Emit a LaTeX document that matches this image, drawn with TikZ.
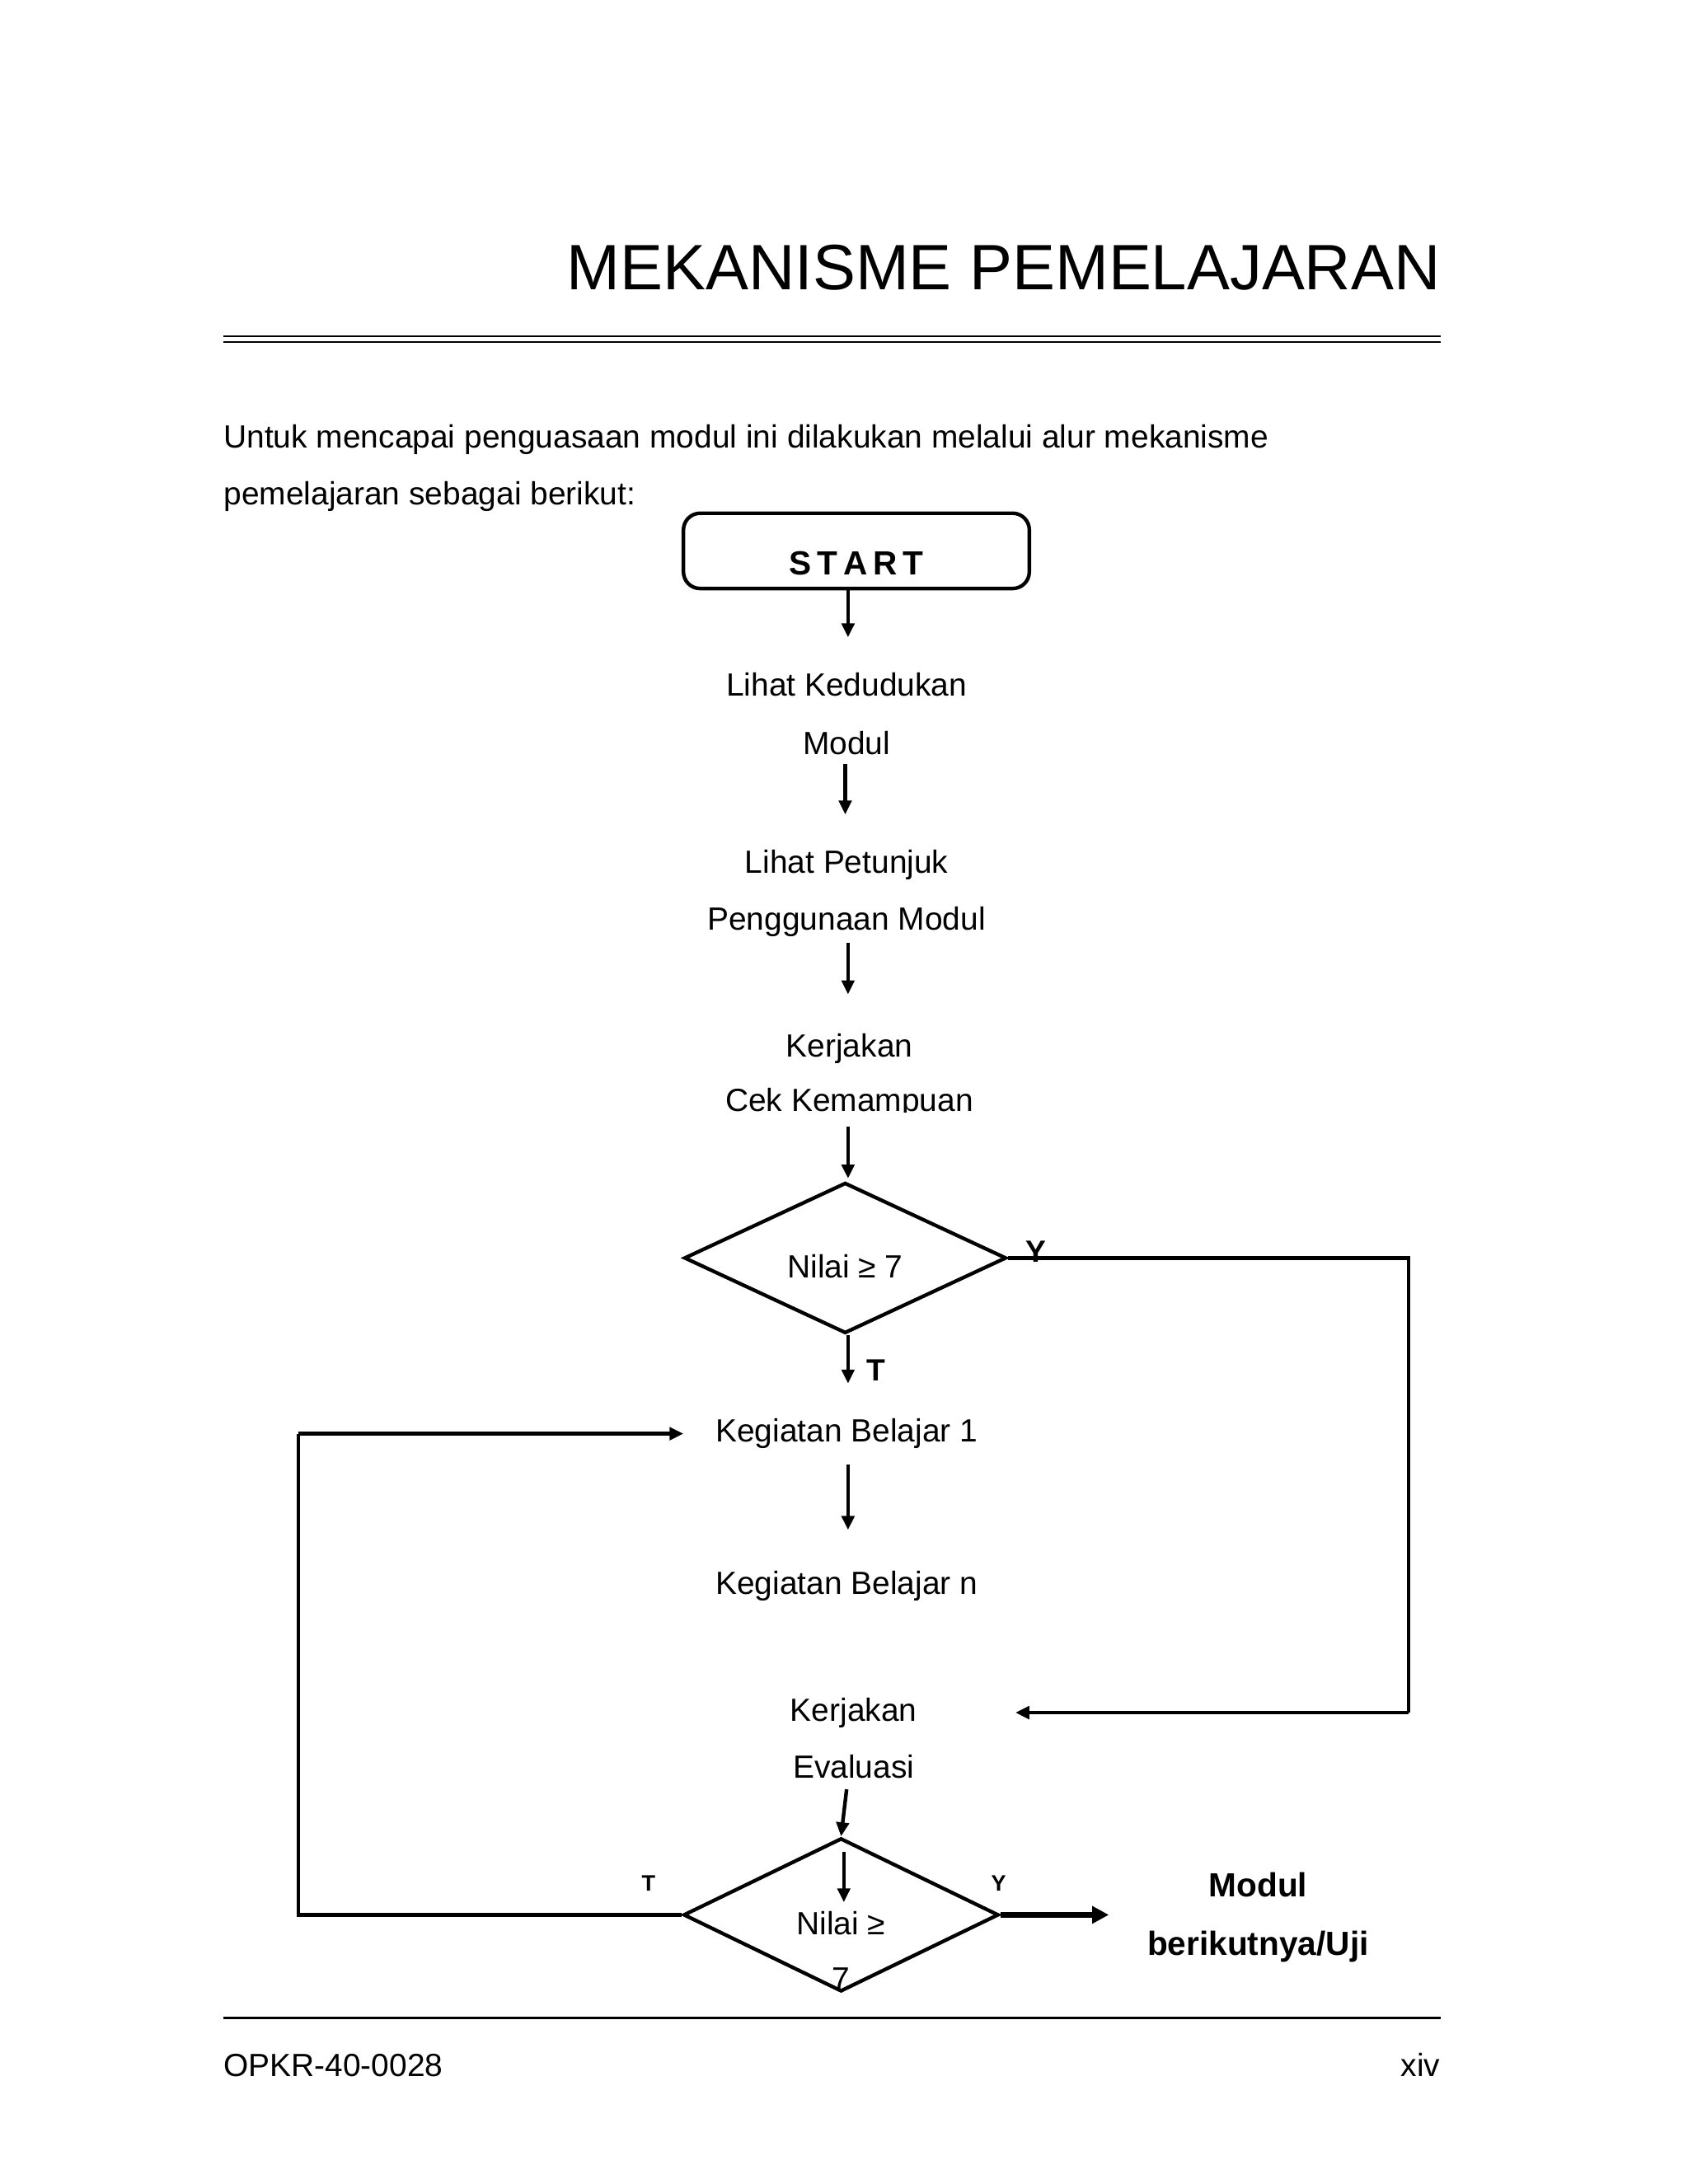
\documentclass[tikz,border=0pt]{standalone}
\usepackage{fontspec}
\setmainfont{Liberation Sans}
\usetikzlibrary{arrows.meta,shapes.geometric}
\begin{document}
\begin{tikzpicture}[x=0.5pt,y=-0.5pt,
  txt/.style={anchor=base,inner sep=0pt,font=\fontsize{11.5}{13}\selectfont},
  arr/.style={line width=1.3pt,-{Triangle[length=5pt,width=4.5pt]}},
  ln/.style={line width=1.3pt}]
\fill[white] (0,0) rectangle (1210,1566);
\useasboundingbox (0,0) rectangle (1210,1566);
\node[anchor=base east,inner sep=0pt,font=\fontsize{23}{26}\selectfont] (title) at (1033,208) {MEKANISME PEMELAJARAN};
\draw[line width=0.6pt] (160,241) -- (1033,241);
\draw[line width=0.6pt] (160,245) -- (1033,245);
\node[anchor=base west,inner sep=0pt,font=\fontsize{11.5}{13}\selectfont] (p1) at (160,321) {Untuk mencapai penguasaan modul ini dilakukan melalui alur mekanisme};
\node[anchor=base west,inner sep=0pt,font=\fontsize{11.5}{13}\selectfont] (p2) at (160,362) {pemelajaran sebagai berikut:};
\draw[ln,rounded corners=6pt] (490,368) rectangle (738,422);
\node[txt,font=\fontsize{12}{14}\selectfont\bfseries] (start) at (614,412) {S\,T\,A\,R\,T};
\coordinate (a1s) at (608,422); \coordinate (a1e) at (608,457);
\draw[arr] (a1s) -- (a1e);
\node[txt] (l1) at (607,499) {Lihat Kedudukan};
\node[txt] (l2) at (607,541) {Modul};
\coordinate (a2s) at (606,548); \coordinate (a2e) at (606,584);
\draw[arr] (a2s) -- (a2e);
\node[txt] (p3) at (607,626) {Lihat Petunjuk};
\node[txt] (p4) at (607,667) {Penggunaan Modul};
\coordinate (a3s) at (608,676); \coordinate (a3e) at (608,713);
\draw[arr] (a3s) -- (a3e);
\node[txt] (k1) at (609,758) {Kerjakan};
\node[txt] (k2) at (609,797) {Cek Kemampuan};
\fill[white] (480,798) rectangle (740,806);
\coordinate (a4s) at (608,808); \coordinate (a4e) at (608,845);
\draw[arr] (a4s) -- (a4e);
\node[draw,ln,diamond,minimum width=231pt*0.5,minimum height=108pt*0.5,inner sep=0pt,aspect=2.14] (d1) at (606,902) {};
\node[txt] (d1t) at (606,916) {Nilai ≥ 7};
\node[txt,font=\fontsize{11}{13}\selectfont\bfseries] (y1) at (743,905) {Y};
\coordinate (c1) at (1010,902); \coordinate (c2) at (1010,1228); \coordinate (c3) at (728,1228);
\draw[ln] (d1.east) -- (c1) -- (c2);
\draw[arr] (c2) -- (c3);
\coordinate (a5e) at (608,992);
\draw[arr] (d1.south) ++(2,0) -- (a5e);
\node[txt,font=\fontsize{11}{13}\selectfont\bfseries] (t1) at (628,990) {T};
\node[txt] (kb1) at (607,1034) {Kegiatan Belajar 1};
\coordinate (a6s) at (608,1050); \coordinate (a6e) at (608,1097);
\draw[arr] (a6s) -- (a6e);
\node[txt] (kbn) at (607,1143) {Kegiatan Belajar n};
\node[txt] (e1) at (612,1234) {Kerjakan};
\node[txt] (e2) at (612,1275) {Evaluasi};
\coordinate (a7s) at (607,1283);
\node[draw,ln,diamond,minimum width=226pt*0.5,minimum height=110pt*0.5,inner sep=0pt,aspect=2.05] (d2) at (603,1373) {};
\draw[arr] (a7s) -- (d2.north);
\coordinate (a8s) at (605,1328); \coordinate (a8e) at (605,1364);
\draw[arr] (a8s) -- (a8e);
\node[txt] (d2t) at (603,1387) {Nilai ≥};
\node[txt] (d2t2) at (603,1427) {7};
\fill[white] (560,1430) rectangle (650,1440);
\node[txt,font=\fontsize{8}{9}\selectfont\bfseries] (t2) at (465,1356) {T};
\fill[white] (455,1357) rectangle (475,1366);
\node[txt,font=\fontsize{8}{9}\selectfont\bfseries] (y2) at (716,1356) {Y};
\fill[white] (706,1357) rectangle (726,1366);
\coordinate (b1) at (214,1373); \coordinate (b2) at (214,1028); \coordinate (b3) at (490,1028);
\draw[ln] (d2.west) -- (b1) -- (b2);
\draw[arr] (b2) -- (b3);
\coordinate (out) at (795,1373);
\draw[line width=2pt,-{Triangle[length=6pt,width=6pt]}] (d2.east) -- (out);
\node[txt,font=\fontsize{12}{14}\selectfont\bfseries] (m1) at (902,1360) {Modul};
\node[txt,font=\fontsize{12}{14}\selectfont\bfseries] (m2) at (902,1402) {berikutnya/Uji};
\draw[line width=0.8pt] (160,1447) -- (1033,1447);
\node[anchor=base west,inner sep=0pt,font=\fontsize{11.5}{13}\selectfont] (f1) at (160,1489) {OPKR-40-0028};
\node[anchor=base east,inner sep=0pt,font=\fontsize{11.5}{13}\selectfont] (f2) at (1033,1489) {xiv};
\end{tikzpicture}
\end{document}
